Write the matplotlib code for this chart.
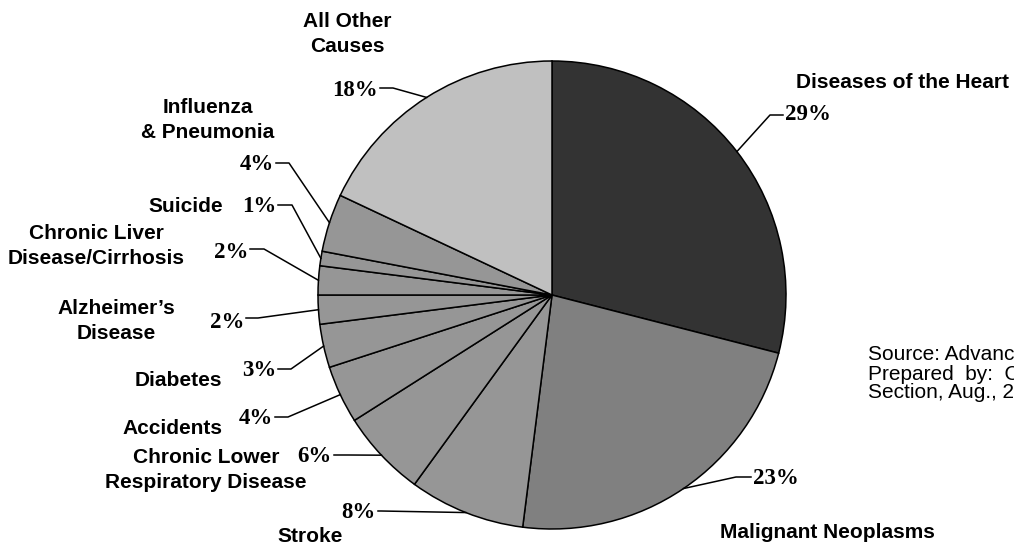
import numpy as np
import matplotlib.pyplot as plt

# causes of death, clockwise from 12 o'clock
causes = ["Diseases of the Heart", "Malignant Neoplasms", "Stroke",
          "Chronic Lower\nRespiratory Disease", "Accidents", "Diabetes",
          "Alzheimer\u2019s\nDisease", "Chronic Liver\nDisease/Cirrhosis",
          "Suicide", "Influenza\n& Pneumonia", "All Other\nCauses"]
shares = [29, 23, 8, 6, 4, 3, 2, 2, 1, 4, 18]
colors = ["#333333", "#808080"] + ["#969696"] * 8 + ["#c0c0c0"]

# label layout in pixel coords (x, y from top-left)
pct_pos = [(785, 115), (753, 478), (376, 512), (332, 457), (273, 418), (276, 370),
           (244, 322), (248, 252), (276, 206), (274, 165), (378, 90)]
elbows = [(770, 115), (736, 477), (381, 511), (348, 455), (288, 417), (291, 369),
          (258, 318), (264, 249), (292, 205), (289, 163), (393, 88)]
name_pos = [(903, 83), (827, 533), (310, 537), (206, 470), (172, 428), (178, 380),
            (116, 321), (96, 246), (186, 207), (208, 120), (347, 34)]

W, H = 1014, 548
fig = plt.figure(figsize=(W / 100, H / 100), dpi=100)
ax = fig.add_axes([0, 0, 1, 1])

cx, cy, r = 552, 295, 234
# y axis is flipped below, so counterclock in data = clockwise on screen
wedges, _ = ax.pie(shares, colors=colors, startangle=-90, counterclock=True,
                   center=(cx, cy), radius=r, frame=True,
                   wedgeprops=dict(edgecolor="black", linewidth=1.1))
ax.set_xlim(0, W)
ax.set_ylim(H, 0)  # y grows downward, like pixels
ax.set_aspect("equal")
ax.axis("off")

# leader lines + percent labels
for w, v, (tx, ty), (ex, ey) in zip(wedges, shares, pct_pos, elbows):
    mid = np.deg2rad((w.theta1 + w.theta2) / 2)
    px, py = cx + r * np.cos(mid), cy + r * np.sin(mid)
    right = tx > cx
    ax.plot([px, ex, tx - 2 if right else tx + 2], [py, ey, ey], color="black", lw=1.1)
    ax.text(tx, ty, f"{v}%", ha="left" if right else "right", va="center",
            family="Liberation Serif", fontweight="bold", fontsize=16.5)

for name, (nx, ny) in zip(causes, name_pos):
    ax.text(nx, ny, name, ha="center", va="center", family="Liberation Sans",
            fontweight="bold", fontsize=15, linespacing=1.4)

ax.text(868, 374, "Source: Advance Report of Final Mortality Statistics\n"
        "Prepared  by:  Center for Health Statistics\nSection, Aug., 2003",
        ha="left", va="center", family="Liberation Sans", fontsize=15, linespacing=1.0)

fig.savefig("out.png", dpi=100)
